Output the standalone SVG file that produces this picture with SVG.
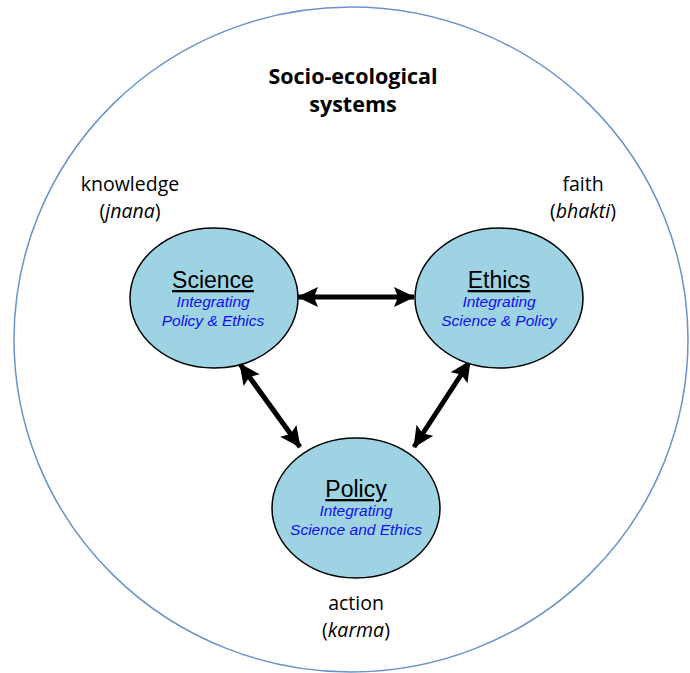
<svg xmlns="http://www.w3.org/2000/svg" width="690" height="673" viewBox="0 0 690 673">
<defs>
<marker id="ah" markerUnits="userSpaceOnUse" markerWidth="22" markerHeight="22" viewBox="0 0 22 22" refX="20" refY="11" orient="auto-start-reverse">
<path d="M0,1 L21,11 L0,21 L4,11 Z" fill="#000"/>
</marker>
</defs>
<style>
.node ellipse{fill:#9dd3e2;stroke:#000;stroke-width:1.5}
.ttl{font-family:"Liberation Sans",Arial,sans-serif;font-size:23px;fill:#000;text-anchor:middle;text-decoration:underline}
.sub{font-family:"Liberation Sans",Arial,sans-serif;font-size:15.5px;font-style:italic;fill:#1010ee;text-anchor:middle}
.lbl{font-family:"Open Sans","Liberation Sans",sans-serif;font-size:19.5px;fill:#000;text-anchor:middle}
.head{font-family:"Open Sans","Liberation Sans",sans-serif;font-size:21.5px;font-weight:bold;fill:#000;text-anchor:middle}
.conn line{stroke:#000;stroke-width:5;marker-start:url(#ah);marker-end:url(#ah)}
</style>
<rect width="690" height="673" fill="#fff"/>
<ellipse cx="351" cy="339.5" rx="337" ry="332.5" fill="none" stroke="#6a93c8" stroke-width="1.5"/>
<g id="title">
<text class="head" x="353" y="84">Socio-ecological</text>
<text class="head" x="353" y="112">systems</text>
</g>
<g id="knowledge">
<text class="lbl" x="130" y="191">knowledge</text>
<text class="lbl" x="130" y="218">(<tspan font-style="italic">jnana</tspan>)</text>
</g>
<g id="faith">
<text class="lbl" x="583" y="191">faith</text>
<text class="lbl" x="583" y="218">(<tspan font-style="italic">bhakti</tspan>)</text>
</g>
<g id="action">
<text class="lbl" x="356" y="610">action</text>
<text class="lbl" x="356" y="637">(<tspan font-style="italic">karma</tspan>)</text>
</g>
<g class="conn" id="connectors">
<line x1="298" y1="297" x2="414" y2="297"/>
<line x1="240" y1="364" x2="300" y2="447"/>
<line x1="470" y1="361" x2="414" y2="447"/>
</g>
<g class="node" id="science">
<ellipse cx="214" cy="298" rx="84" ry="70"/>
<text class="ttl" x="213" y="288">Science</text>
<text class="sub" x="213" y="307">Integrating</text>
<text class="sub" x="213" y="326">Policy &amp; Ethics</text>
</g>
<g class="node" id="ethics">
<ellipse cx="499" cy="298" rx="84" ry="70"/>
<text class="ttl" x="499" y="288">Ethics</text>
<text class="sub" x="499" y="307">Integrating</text>
<text class="sub" x="499" y="326">Science &amp; Policy</text>
</g>
<g class="node" id="policy">
<ellipse cx="356" cy="508" rx="84" ry="70"/>
<text class="ttl" x="356" y="497">Policy</text>
<text class="sub" x="356" y="516">Integrating</text>
<text class="sub" x="356" y="535">Science and Ethics</text>
</g>
</svg>
